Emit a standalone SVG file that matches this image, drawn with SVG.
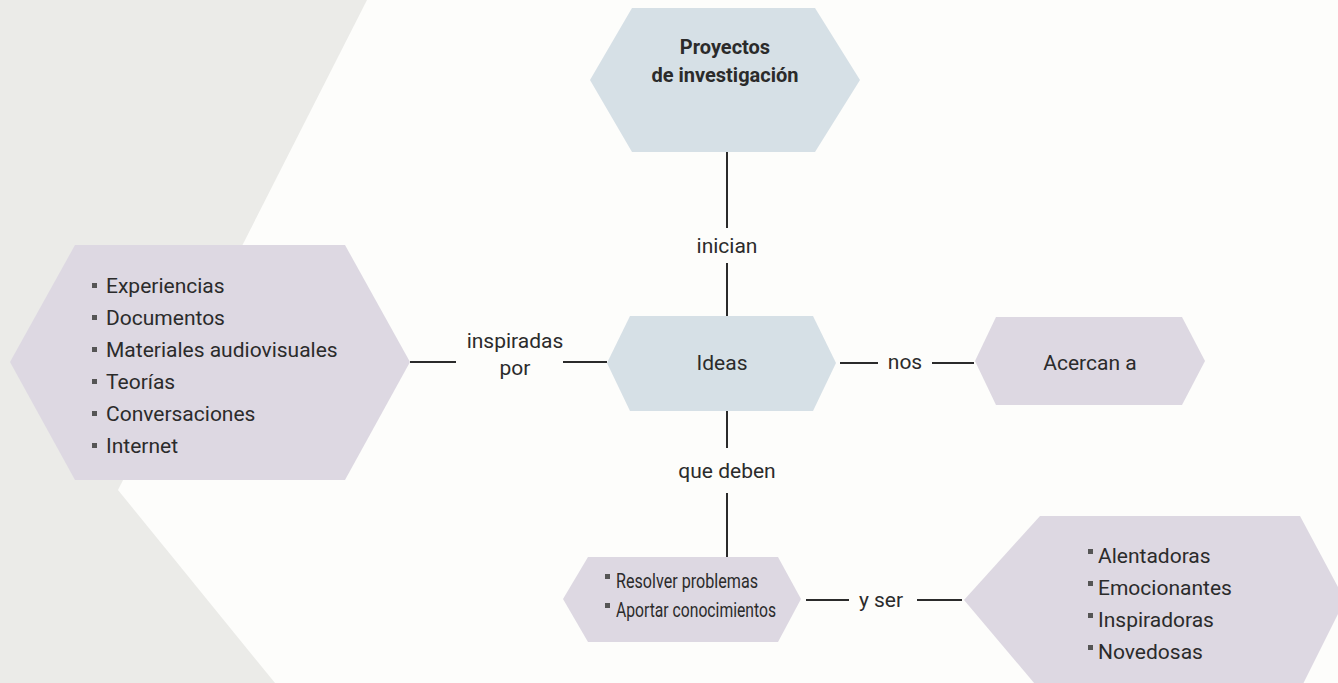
<svg xmlns="http://www.w3.org/2000/svg" width="1338" height="683" viewBox="0 0 1338 683">
<defs>
<style>
.bg-gray{fill:#ebebe8}
.bg-white{fill:#fdfdfb}
.blue{fill:#d6e0e6}
.purple{fill:#ddd8e2}
.t{font-family:Roboto,"Liberation Sans",sans-serif;font-size:21px;fill:#2b2b2b}
.tb{font-family:Roboto,"Liberation Sans",sans-serif;font-size:20px;font-weight:bold;fill:#2b2b2b}
.mid{text-anchor:middle}
.ln{stroke:#2b2b2b;stroke-width:2;fill:none}
.bul{fill:#555}
</style>
</defs>
<rect class="bg-gray" x="0" y="0" width="1338" height="683"/>
<polygon class="bg-white" points="367,0 1338,0 1338,683 275,683 118,490"/>

<g id="connectors">
<line class="ln" x1="727" y1="152" x2="727" y2="228"/>
<line class="ln" x1="727" y1="263" x2="727" y2="316"/>
<line class="ln" x1="727" y1="411" x2="727" y2="448"/>
<line class="ln" x1="727" y1="493" x2="727" y2="560"/>
<line class="ln" x1="410" y1="362" x2="456" y2="362"/>
<line class="ln" x1="563" y1="362" x2="607" y2="362"/>
<line class="ln" x1="840" y1="363" x2="878" y2="363"/>
<line class="ln" x1="932" y1="363" x2="974" y2="363"/>
<line class="ln" x1="806" y1="600" x2="849" y2="600"/>
<line class="ln" x1="917" y1="600" x2="962" y2="600"/>
<text class="t mid" x="727" y="253">inician</text>
<text class="t mid" x="727" y="478">que deben</text>
<text class="t mid" x="515" y="348">inspiradas</text>
<text class="t mid" x="515" y="375">por</text>
<text class="t mid" x="905" y="369">nos</text>
<text class="t mid" x="881" y="607">y ser</text>
</g>

<g id="node-proyectos">
<polygon class="blue" points="632,8 815,8 860,80 815,152 632,152 590,80"/>
<text class="tb mid" x="725" y="54">Proyectos</text>
<text class="tb mid" x="725" y="82">de investigación</text>
</g>

<g id="node-fuentes">
<polygon class="purple" points="75,245 345,245 410,362 345,480 75,480 10,362"/>
<rect class="bul" x="92" y="283" width="5" height="5"/>
<text class="t" x="106" y="293">Experiencias</text>
<rect class="bul" x="92" y="315" width="5" height="5"/>
<text class="t" x="106" y="325">Documentos</text>
<rect class="bul" x="92" y="347" width="5" height="5"/>
<text class="t" x="106" y="357">Materiales audiovisuales</text>
<rect class="bul" x="92" y="379" width="5" height="5"/>
<text class="t" x="106" y="389">Teorías</text>
<rect class="bul" x="92" y="411" width="5" height="5"/>
<text class="t" x="106" y="421">Conversaciones</text>
<rect class="bul" x="92" y="443" width="5" height="5"/>
<text class="t" x="106" y="453">Internet</text>
</g>

<g id="node-ideas">
<polygon class="blue" points="630,316 813,316 836,363 813,411 630,411 607,363"/>
<text class="t mid" x="722" y="370">Ideas</text>
</g>

<g id="node-acercan">
<polygon class="purple" points="996,317 1182,317 1205,361 1182,405 996,405 975,361"/>
<text class="t mid" x="1090" y="370">Acercan a</text>
</g>

<g id="node-deben">
<polygon class="purple" points="588,557 778,557 801,599 778,642 588,642 563,599"/>
<rect class="bul" x="605" y="574" width="5" height="5"/>
<text class="t" x="616" y="588" textLength="142" lengthAdjust="spacingAndGlyphs">Resolver problemas</text>
<rect class="bul" x="605" y="603" width="5" height="5"/>
<text class="t" x="616" y="617" textLength="160" lengthAdjust="spacingAndGlyphs">Aportar conocimientos</text>
</g>

<g id="node-cualidades">
<polygon class="purple" points="1040,516 1300,516 1345,600 1300,690 1040,690 964,600"/>
<rect class="bul" x="1088" y="549" width="5" height="5"/>
<text class="t" x="1098" y="563">Alentadoras</text>
<rect class="bul" x="1088" y="581" width="5" height="5"/>
<text class="t" x="1098" y="595">Emocionantes</text>
<rect class="bul" x="1088" y="613" width="5" height="5"/>
<text class="t" x="1098" y="627">Inspiradoras</text>
<rect class="bul" x="1088" y="645" width="5" height="5"/>
<text class="t" x="1098" y="659">Novedosas</text>
</g>
</svg>
